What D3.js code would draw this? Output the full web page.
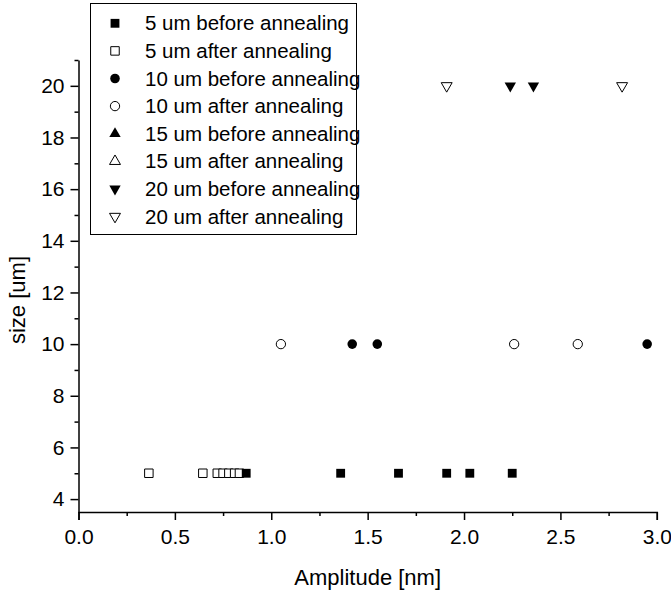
<!DOCTYPE html>
<html>
<head>
<meta charset="utf-8">
<script src="https://cdn.jsdelivr.net/npm/d3@7"></script>
<style>
  body { margin: 0; background: #fff; }
  svg text { font-family: "Liberation Sans", Arial, sans-serif; fill: #000; }
</style>
</head>
<body>
<div id="chart"></div>
<script>
// amplitude values [nm] per series
var s5Before = [0.87, 1.36, 1.66, 1.91, 2.03, 2.25];
var s5After = [0.365, 0.645, 0.72, 0.75, 0.78, 0.81, 0.835];
var s10Before = [1.42, 1.55, 2.95];
var s10After = [1.05, 2.26, 2.59];
var s15Before = [];
var s15After = [];
var s20Before = [2.24, 2.36];
var s20After = [1.91, 2.82];

var seriesNames = ["5 um before annealing", "5 um after annealing", "10 um before annealing", "10 um after annealing",
  "15 um before annealing", "15 um after annealing", "20 um before annealing", "20 um after annealing"];
var seriesSizes = [5, 5, 10, 10, 15, 15, 20, 20];
var seriesData = [s5Before, s5After, s10Before, s10After, s15Before, s15After, s20Before, s20After];

var xTicks = [0, 0.5, 1.0, 1.5, 2.0, 2.5, 3.0];
var xMinor = [0.25, 0.75, 1.25, 1.75, 2.25, 2.75];
var yTicks = [4, 6, 8, 10, 12, 14, 16, 18, 20];
var yMinor = [5, 7, 9, 11, 13, 15, 17, 19, 21];

var width = 671, height = 590;

var svg = d3.select("#chart").append("svg")
  .attr("width", width)
  .attr("height", height);

var x = d3.scaleLinear().domain([0, 3]).range([78.5, 656.8]);
var y = d3.scaleLinear().domain([3.5, 21]).range([512, 60]);

// symbol look for each series
var shapes = [d3.symbolSquare, d3.symbolSquare, d3.symbolCircle, d3.symbolCircle,
  d3.symbolTriangle, d3.symbolTriangle, d3.symbolTriangle, d3.symbolTriangle];
var areas = [78, 72, 72, 68, 56, 52, 56, 52];
var filled = [true, false, true, false, true, false, true, false];
var flipped = [false, false, false, false, false, false, true, true];

var symbolPath = function(i) {
  return d3.symbol().type(shapes[i]).size(areas[i])();
};

// axes
var fontSize = "21px";

svg.append("g")
  .attr("transform", "translate(0," + y.range()[0] + ")")
  .call(d3.axisBottom(x).tickValues(xMinor).tickSize(4).tickFormat(""))
  .call(function(g) { g.select(".domain").remove(); });

var xAxis = svg.append("g")
  .attr("transform", "translate(0," + y.range()[0] + ")")
  .call(d3.axisBottom(x).tickValues(xTicks).tickSize(8).tickPadding(9).tickFormat(d3.format(".1f")));
xAxis.selectAll("text").style("font-size", fontSize);

svg.append("g")
  .attr("transform", "translate(" + x.range()[0] + ",0)")
  .call(d3.axisLeft(y).tickValues(yMinor).tickSize(4).tickFormat(""))
  .call(function(g) { g.select(".domain").remove(); });

var yAxis = svg.append("g")
  .attr("transform", "translate(" + x.range()[0] + ",0)")
  .call(d3.axisLeft(y).tickValues(yTicks).tickSize(8).tickPadding(6).tickSizeOuter(0));
yAxis.selectAll("text").style("font-size", fontSize);

svg.selectAll(".domain, .tick line").attr("stroke", "#000").attr("stroke-width", 1.5);
svg.selectAll(".tick text").attr("fill", "#000");

// axis titles
svg.append("text")
  .attr("x", (x.range()[0] + x.range()[1]) / 2)
  .attr("y", 585)
  .attr("text-anchor", "middle")
  .style("font-size", "22px")
  .text("Amplitude [nm]");

svg.append("text")
  .attr("transform", "translate(25,300) rotate(-90)")
  .attr("text-anchor", "middle")
  .style("font-size", "22px")
  .text("size [um]");

// points (open symbols first so filled ones sit on top)
var order = [1, 3, 5, 7, 0, 2, 4, 6];
order.forEach(function(i) {
  svg.append("g").selectAll("path")
    .data(seriesData[i])
    .enter()
    .append("path")
    .attr("d", symbolPath(i))
    .attr("transform", function(d) {
      return "translate(" + x(d) + "," + y(seriesSizes[i]) + ")" + (flipped[i] ? " rotate(180)" : "");
    })
    .attr("fill", filled[i] ? "#000" : "#fff")
    .attr("stroke", "#000")
    .attr("stroke-width", filled[i] ? 0 : 1);
});

// legend
var legend = svg.append("g");
legend.append("rect")
  .attr("x", 90.5).attr("y", 3.5)
  .attr("width", 266).attr("height", 231)
  .attr("fill", "#fff")
  .attr("stroke", "#000")
  .attr("stroke-width", 1);

var rows = legend.selectAll(".row")
  .data(seriesNames)
  .enter()
  .append("g")
  .attr("class", "row")
  .attr("transform", function(d, i) { return "translate(0," + (23.3 + i * 27.6) + ")"; });

rows.append("path")
  .attr("d", function(d, i) { return symbolPath(i); })
  .attr("transform", function(d, i) { return "translate(115,0)" + (flipped[i] ? " rotate(180)" : ""); })
  .attr("fill", function(d, i) { return filled[i] ? "#000" : "#fff"; })
  .attr("stroke", "#000")
  .attr("stroke-width", function(d, i) { return filled[i] ? 0 : 1; });

rows.append("text")
  .attr("x", 145)
  .attr("dy", "0.35em")
  .style("font-size", "20.5px")
  .text(function(d) { return d; });
</script>
</body>
</html>
